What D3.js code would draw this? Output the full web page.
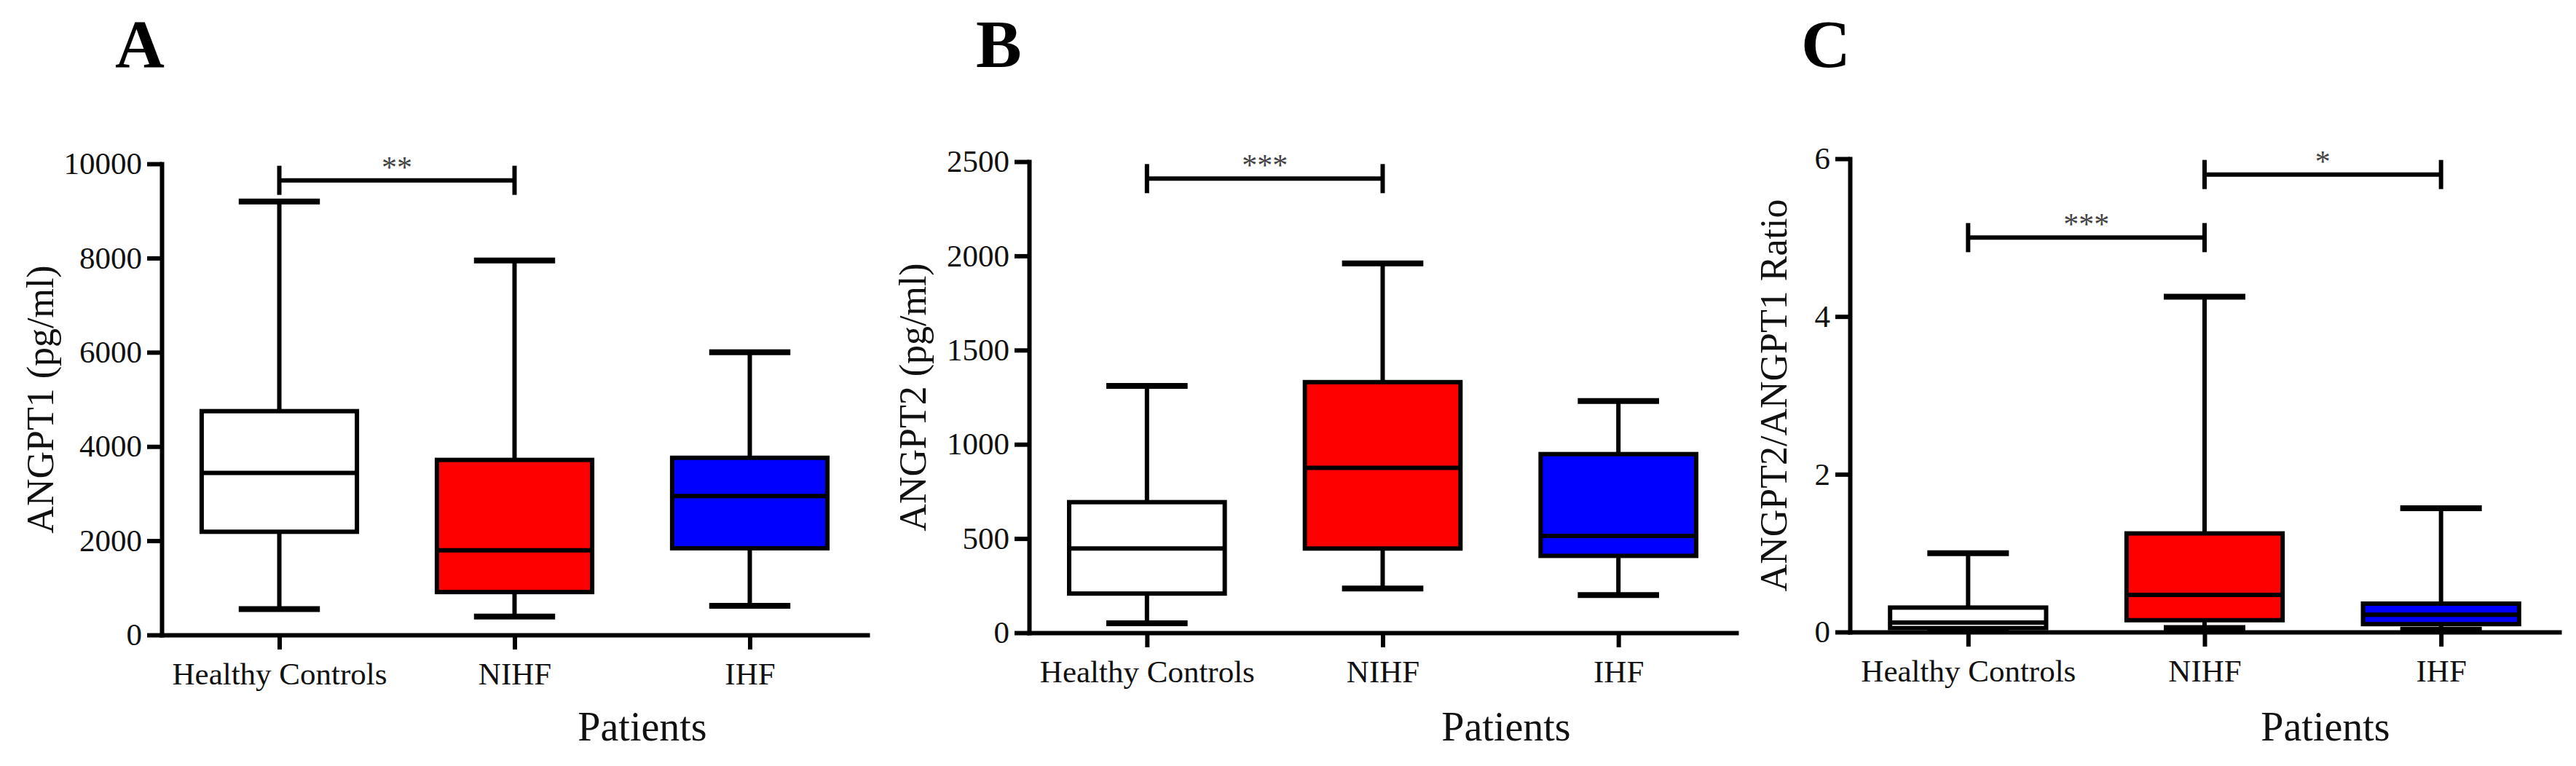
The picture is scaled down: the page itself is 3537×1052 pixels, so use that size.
<!DOCTYPE html>
<html>
<head>
<meta charset="utf-8">
<script src="https://cdn.jsdelivr.net/npm/d3@7"></script>
<style>
  body { margin: 0; background: #fff; }
  svg { display: block; }
  text { font-family: "Liberation Serif", "Times New Roman", serif; fill: #111; }
</style>
</head>
<body>
<div id="chart"></div>
<script>
  var groups = ["Healthy Controls", "NIHF", "IHF"];

  // [min, q1, median, q3, max] per group
  var angpt1Box = [
    [550, 2190, 3440, 4750, 9200],
    [390, 910, 1795, 3715, 7950],
    [620, 1840, 2950, 3760, 6000]
  ];
  var angpt2Box = [
    [50, 208, 447, 693, 1310],
    [235, 447, 875, 1330, 1960],
    [200, 408, 514, 948, 1230]
  ];
  var ratioBox = [
    [0.01, 0.05, 0.12, 0.31, 1.0],
    [0.05, 0.15, 0.47, 1.25, 4.25],
    [0.03, 0.10, 0.22, 0.36, 1.57]
  ];

  var angpt1Ticks = [0, 2000, 4000, 6000, 8000, 10000];
  var angpt2Ticks = [0, 500, 1000, 1500, 2000, 2500];
  var ratioTicks = [0, 2, 4, 6];

  // significance brackets: [fromGroup, toGroup, yValue, label]
  var angpt1Sig = [[0, 1, 9650, "**"]];
  var angpt2Sig = [[0, 1, 2410, "***"]];
  var ratioSig = [[0, 1, 5.0, "***"], [1, 2, 5.8, "*"]];

  var panelLetters = ["A", "B", "C"];
  var yTitles = ["ANGPT1 (pg/ml)", "ANGPT2 (pg/ml)", "ANGPT2/ANGPT1 Ratio"];
  var xTitle = "Patients";

  var fills = ["#ffffff", "#ff0000", "#0000ff"];

  var panels = [
    { box: angpt1Box, ticks: angpt1Ticks, sig: angpt1Sig, max: 10000,
      left: 222, right: 1191, top: 225, bottom: 872, letterX: 158, titleX: 55, patientsX: 882 },
    { box: angpt2Box, ticks: angpt2Ticks, sig: angpt2Sig, max: 2500,
      left: 1413, right: 2384, top: 222, bottom: 869, letterX: 1340, titleX: 1253, patientsX: 2068 },
    { box: ratioBox, ticks: ratioTicks, sig: ratioSig, max: 6,
      left: 2540, right: 3514, top: 218, bottom: 868, letterX: 2473, titleX: 2435, patientsX: 3193 }
  ];

  var svg = d3.select("#chart").append("svg")
    .attr("width", 3537)
    .attr("height", 1052);

  panels.forEach(function (p, i) {
    var g = svg.append("g");
    var x = d3.scalePoint().domain(groups).range([p.left, p.right]).padding(0.5);
    var y = d3.scaleLinear().domain([0, p.max]).range([p.bottom, p.top]);
    var step = x.step();
    var boxW = step * 0.66;
    var capW = step * 0.345;

    // boxes and whiskers
    p.box.forEach(function (s, j) {
      var cx = x(groups[j]);
      var bg = g.append("g");
      bg.append("line")
        .attr("x1", cx).attr("x2", cx)
        .attr("y1", y(s[0])).attr("y2", y(s[1]))
        .attr("stroke", "#000").attr("stroke-width", 6);
      bg.append("line")
        .attr("x1", cx).attr("x2", cx)
        .attr("y1", y(s[3])).attr("y2", y(s[4]))
        .attr("stroke", "#000").attr("stroke-width", 6);
      [s[0], s[4]].forEach(function (v) {
        bg.append("line")
          .attr("x1", cx - capW / 2).attr("x2", cx + capW / 2)
          .attr("y1", y(v)).attr("y2", y(v))
          .attr("stroke", "#000").attr("stroke-width", 8);
      });
      bg.append("rect")
        .attr("x", cx - boxW / 2)
        .attr("y", y(s[3]))
        .attr("width", boxW)
        .attr("height", y(s[1]) - y(s[3]))
        .attr("fill", fills[j])
        .attr("stroke", "#000").attr("stroke-width", 6);
      bg.append("line")
        .attr("x1", cx - boxW / 2).attr("x2", cx + boxW / 2)
        .attr("y1", y(s[2])).attr("y2", y(s[2]))
        .attr("stroke", "#000").attr("stroke-width", 6);
    });

    // axes
    var yAxis = g.append("g")
      .attr("transform", "translate(" + p.left + ",0)")
      .call(d3.axisLeft(y).tickValues(p.ticks).tickSize(20).tickSizeOuter(0).tickPadding(7).tickFormat(d3.format("d")));
    var xAxis = g.append("g")
      .attr("transform", "translate(0," + p.bottom + ")")
      .call(d3.axisBottom(x).tickSize(20).tickSizeOuter(0));

    [yAxis, xAxis].forEach(function (ax) {
      ax.attr("font-family", null).attr("font-size", null);
      ax.select(".domain").attr("stroke", "#000").attr("stroke-width", 6).attr("stroke-linecap", "square");
      ax.selectAll(".tick line").attr("stroke", "#000").attr("stroke-width", 6);
      ax.selectAll(".tick text").attr("fill", "#1a1a1a").style("font-size", "43px");
    });
    xAxis.selectAll(".tick text").attr("dy", null).attr("y", 68);

    // significance brackets
    p.sig.forEach(function (b) {
      var x1 = x(groups[b[0]]), x2 = x(groups[b[1]]), yy = y(b[2]);
      var sg = g.append("g").attr("stroke", "#000").attr("stroke-width", 6);
      sg.append("line").attr("x1", x1).attr("x2", x2).attr("y1", yy).attr("y2", yy);
      sg.append("line").attr("x1", x1).attr("x2", x1).attr("y1", yy - 20).attr("y2", yy + 20);
      sg.append("line").attr("x1", x2).attr("x2", x2).attr("y1", yy - 20).attr("y2", yy + 20);
      g.append("text")
        .attr("x", (x1 + x2) / 2)
        .attr("y", yy - 4)
        .attr("text-anchor", "middle")
        .style("font-size", "42px")
        .style("fill", "#444")
        .text(b[3]);
    });

    // titles
    g.append("text")
      .attr("x", p.letterX)
      .attr("y", 92)
      .style("font-size", "94px")
      .style("font-weight", "bold")
      .style("fill", "#000")
      .text(panelLetters[i]);

    g.append("text")
      .attr("transform", "translate(" + p.titleX + "," + ((p.top + p.bottom) / 2) + ") rotate(-90)")
      .attr("text-anchor", "middle")
      .attr("dy", "0.35em")
      .style("font-size", "52px")
      .text(yTitles[i]);

    g.append("text")
      .attr("x", p.patientsX)
      .attr("y", 1017)
      .attr("text-anchor", "middle")
      .style("font-size", "56px")
      .text(xTitle);
  });
</script>
</body>
</html>
